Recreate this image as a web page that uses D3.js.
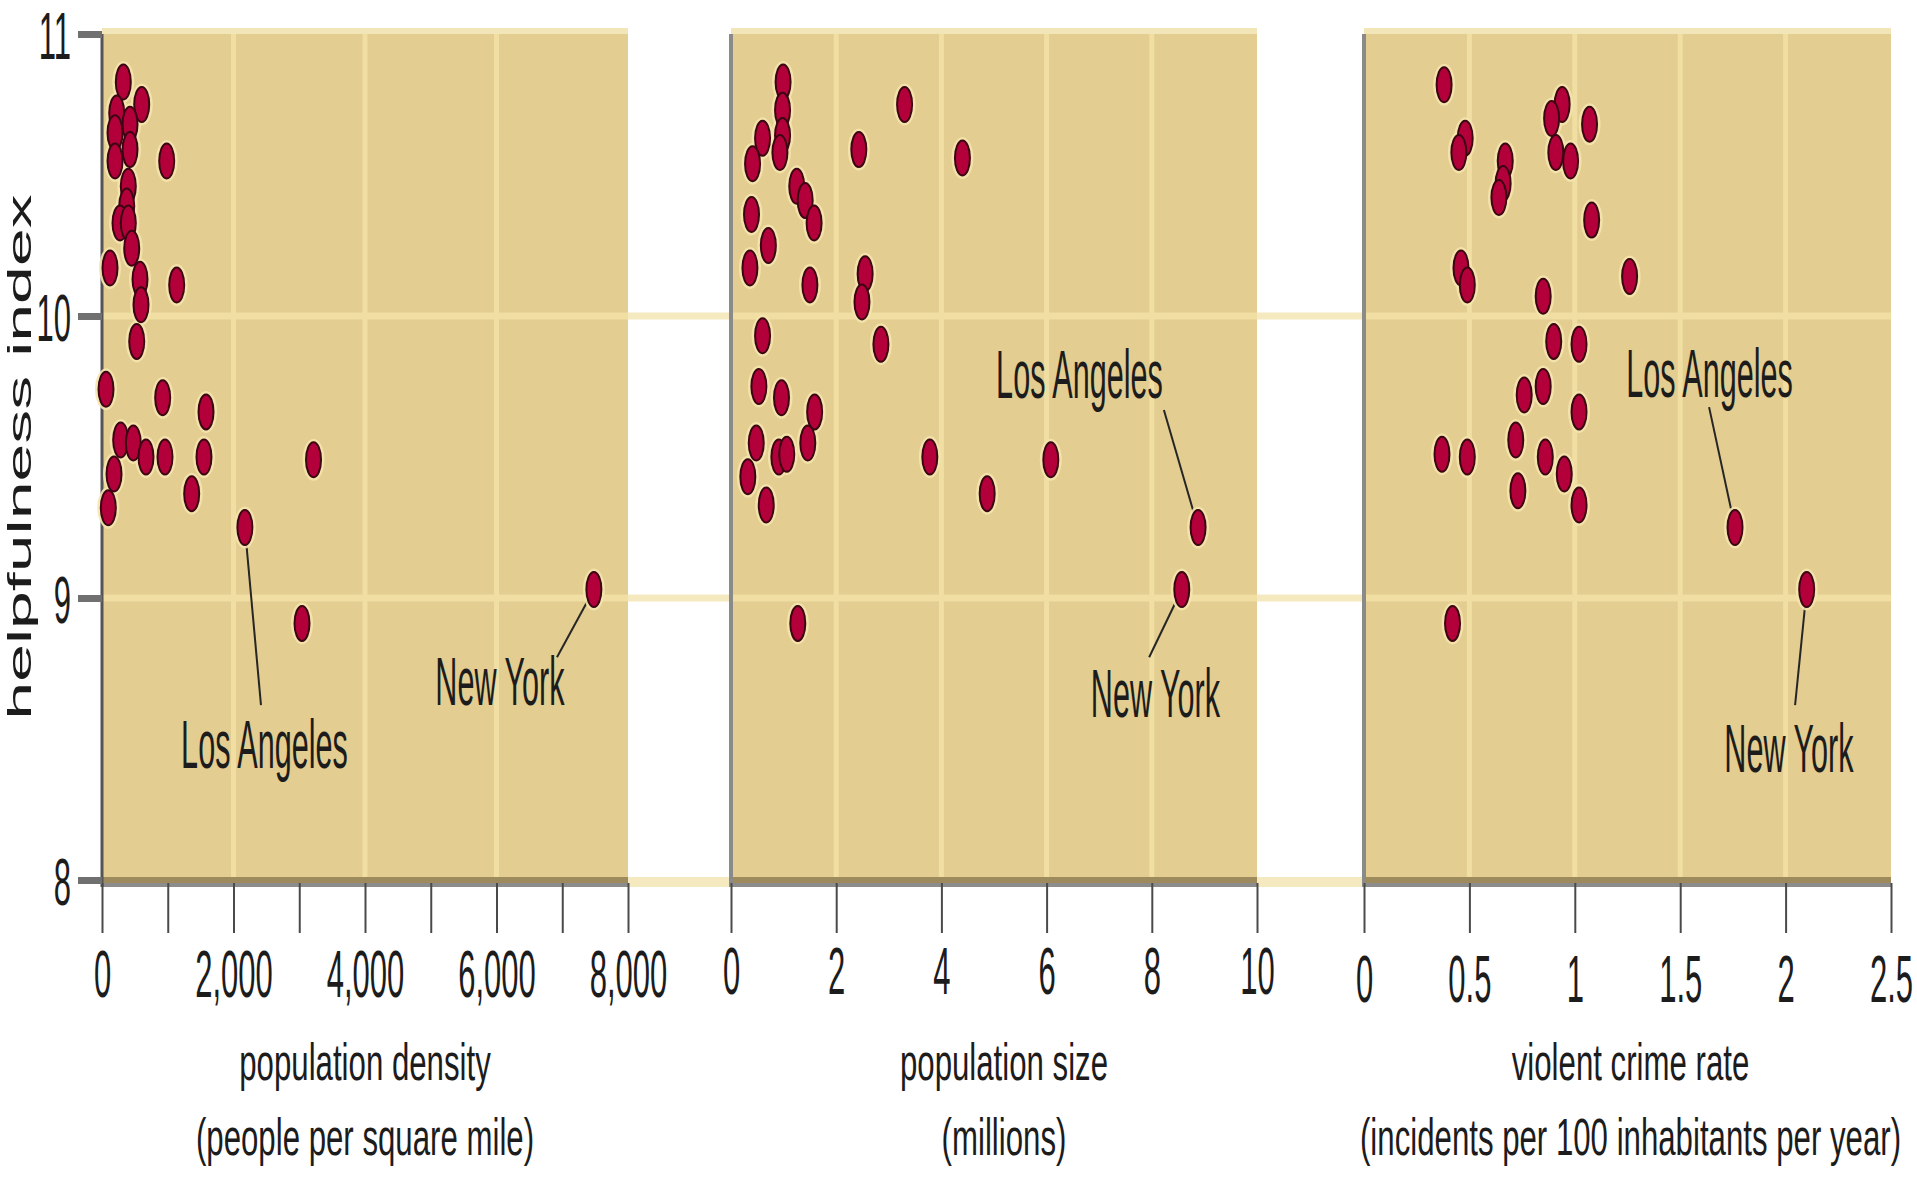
<!DOCTYPE html>
<html>
<head>
<meta charset="utf-8">
<title>Helpfulness and city characteristics</title>
<script src="https://cdn.jsdelivr.net/npm/d3@7/dist/d3.min.js"></script>
<style>
  html, body { margin: 0; padding: 0; background: #ffffff; }
  svg { display: block; }
  text { font-family: "Liberation Sans", Arial, Helvetica, sans-serif; fill: #1c1c1c; }
</style>
</head>
<body>
<svg id="chart" width="1917" height="1178"></svg>
<script>
// Helpfulness index, shared vertical axis
const helpTicks = [8, 9, 10, 11];

// Panel 1: population density (people per square mile)
const densityX = [324, 604, 224, 426, 198, 426, 198, 984, 400, 376, 274, 400, 452, 122, 578, 1136, 593, 528, 61, 923,
                  1582, 284, 476, 669, 958, 1551, 183, 1364, 96, 3217, 3042];
const densityY = [10.83, 10.75, 10.72, 10.68, 10.65, 10.59, 10.55, 10.55, 10.46, 10.39, 10.33, 10.33, 10.24, 10.17, 10.13, 10.11, 10.04, 9.91, 9.74, 9.71,
                  9.66, 9.56, 9.55, 9.50, 9.50, 9.50, 9.44, 9.37, 9.32, 9.49, 8.91];
const densityTicks = [0, 1000, 2000, 3000, 4000, 5000, 6000, 7000, 8000];
const densityTickLabels = ["0", "2,000", "4,000", "6,000", "8,000"];

// Panel 2: population size (millions)
const sizeX = [0.99, 0.98, 0.98, 0.93, 0.60, 0.41, 1.25, 1.41, 1.58, 0.39, 0.71, 0.36, 1.50, 0.60, 3.30, 2.43, 4.40, 2.55, 2.49, 2.85,
               0.53, 0.96, 1.59, 0.48, 0.91, 1.06, 1.46, 0.32, 0.67, 3.78, 4.87, 6.08, 1.27];
const sizeY = [10.83, 10.73, 10.64, 10.58, 10.63, 10.54, 10.46, 10.41, 10.33, 10.36, 10.25, 10.17, 10.11, 9.93, 10.75, 10.59, 10.56, 10.15, 10.05, 9.90,
               9.75, 9.71, 9.66, 9.55, 9.50, 9.51, 9.55, 9.43, 9.33, 9.50, 9.37, 9.49, 8.91];
const sizeTicks = [0, 2, 4, 6, 8, 10];
const sizeTickLabels = ["0", "2", "4", "6", "8", "10"];

// Panel 3: violent crime rate (incidents per 100 inhabitants per year)
const crimeX = [0.38, 0.48, 0.45, 0.67, 0.66, 0.64, 0.94, 0.89, 1.07, 0.91, 0.98, 1.08, 0.46, 0.49, 1.26, 0.85, 0.90, 1.02, 0.85, 0.76,
                1.02, 0.37, 0.49, 0.72, 0.86, 0.73, 0.95, 1.02, 0.42];
const crimeY = [10.82, 10.63, 10.58, 10.55, 10.47, 10.42, 10.75, 10.70, 10.68, 10.58, 10.55, 10.34, 10.17, 10.11, 10.14, 10.07, 9.91, 9.90, 9.75, 9.72,
                9.66, 9.51, 9.50, 9.56, 9.50, 9.38, 9.44, 9.33, 8.91];
const crimeTicks = [0, 0.5, 1, 1.5, 2, 2.5];
const crimeTickLabels = ["0", "0.5", "1", "1.5", "2", "2.5"];

// Cities singled out with a label
const namedCities = ["Los Angeles", "New York"];
const namedHelp = [9.25, 9.03];
const namedDensity = [2173, 7481];
const namedSize = [8.88, 8.57];
const namedCrime = [1.76, 2.10];

// ---------------------------------------------------------------------------
const svg = d3.select("#chart");
const TAN = "#e3cd90", PALE = "#f0dea2", GAP_PALE = "#f5e9bf";
const yTop = 34, yBottom = 880;
const y = d3.scaleLinear().domain([8, 11]).range([yBottom, yTop]);

const panels = [
  { xs: densityX, ys: densityY, named: namedDensity, domain: [0, 8000], range: [102, 628],
    ticks: densityTicks, tickLabels: densityTickLabels, labelBase: 997, titleShift: 0,
    fmt: d3.format(","), title: "population density", sub: "(people per square mile)",
    notes: [ { at: [2471, 8.397], end: [2418, 8.62] }, { at: [6053, 8.62], end: [6920, 8.79] } ] },
  { xs: sizeX, ys: sizeY, named: namedSize, domain: [0, 10], range: [731, 1257],
    ticks: sizeTicks, tickLabels: sizeTickLabels, labelBase: 994, titleShift: 10,
    fmt: d3.format(""), title: "population size", sub: "(millions)",
    notes: [ { at: [6.625, 9.709], end: [8.23, 9.667] }, { at: [8.07, 8.578], end: [7.95, 8.79] } ] },
  { xs: crimeX, ys: crimeY, named: namedCrime, domain: [0, 2.5], range: [1364, 1891],
    ticks: crimeTicks, tickLabels: crimeTickLabels, labelBase: 1002, titleShift: 3,
    fmt: d3.format(""), title: "violent crime rate", sub: "(incidents per 100 inhabitants per year)",
    notes: [ { at: [1.639, 9.713], end: [1.637, 9.677] }, { at: [2.016, 8.383], end: [2.045, 8.62] } ] }
];
panels.forEach(p => { p.x = d3.scaleLinear().domain(p.domain).range(p.range); });

const back = svg.append("g");
const front = svg.append("g");

// pale bands bridging the gaps between panels
for (let i = 0; i < panels.length - 1; i++) {
  const a = panels[i].range[1], b = panels[i + 1].range[0];
  [9, 10].forEach(v => back.append("line")
    .attr("x1", a).attr("x2", b).attr("y1", y(v)).attr("y2", y(v))
    .attr("stroke", GAP_PALE).attr("stroke-width", 7));
  back.append("rect").attr("x", a).attr("width", b - a)
    .attr("y", y(8) - 3).attr("height", 10).attr("fill", GAP_PALE);
}

panels.forEach((p, i) => {
  const [x0, x1] = p.range;
  const g = back.append("g");

  // plot area
  g.append("rect").attr("x", x0).attr("y", yTop).attr("width", x1 - x0).attr("height", yBottom - yTop)
    .attr("fill", TAN);
  g.append("rect").attr("x", x0).attr("y", yTop - 6).attr("width", x1 - x0).attr("height", 6)
    .attr("fill", "#f2e5b8");

  // vertical grid at labelled ticks
  const labelled = p.ticks.filter(t => p.tickLabels.includes(p.fmt(t)));
  g.selectAll(".vgrid").data(labelled.filter(t => t !== p.domain[0] && t !== p.domain[1]))
    .join("line")
    .attr("x1", d => p.x(d)).attr("x2", d => p.x(d))
    .attr("y1", yTop).attr("y2", yBottom)
    .attr("stroke", PALE).attr("stroke-width", 5);

  // horizontal grid
  g.selectAll(".hgrid").data([9, 10]).join("line")
    .attr("x1", x0).attr("x2", x1)
    .attr("y1", d => y(d)).attr("y2", d => y(d))
    .attr("stroke", PALE).attr("stroke-width", 7);

  // base band
  g.append("rect").attr("x", x0).attr("y", yBottom - 3).attr("width", x1 - x0).attr("height", 6)
    .attr("fill", "#9d8b5e");
  g.append("rect").attr("x", x0).attr("y", yBottom + 3).attr("width", x1 - x0).attr("height", 4)
    .attr("fill", "#8c8c8c");

  // left edge
  g.append("line").attr("x1", x0).attr("x2", x0).attr("y1", yTop).attr("y2", yBottom + 7)
    .attr("stroke", i === 0 ? "#555555" : "#8a8a8a").attr("stroke-width", i === 0 ? 3 : 4);

  // bottom axis
  const axis = d3.axisBottom(p.x).tickValues(p.ticks).tickSize(50)
    .tickFormat(d => { const s = p.fmt(d); return p.tickLabels.includes(s) ? s : ""; });
  const ag = g.append("g").attr("transform", `translate(0,${yBottom + 3})`).call(axis)
    .attr("font-size", null).attr("font-family", null);
  ag.select(".domain").remove();
  ag.selectAll(".tick line").attr("stroke", "#4a4a4a").attr("stroke-width", 2);
  ag.selectAll(".tick text")
    .attr("y", p.labelBase - (yBottom + 3)).attr("dy", null)
    .attr("font-size", 66).attr("fill", "#1c1c1c")
    .attr("transform", "scale(0.47,1)");

  // axis titles
  const cx = (x0 + x1) / 2 + p.titleShift;
  g.append("text").attr("text-anchor", "middle").attr("font-size", 52)
    .attr("transform", `translate(${cx},1080) scale(0.6,1)`).text(p.title);
  g.append("text").attr("text-anchor", "middle").attr("font-size", 52)
    .attr("transform", `translate(${cx},1155) scale(0.6,1)`).text(p.sub);

  // leader lines to the named cities
  p.notes.forEach((n, k) => {
    front.append("line")
      .attr("x1", p.x(p.named[k])).attr("y1", y(namedHelp[k]))
      .attr("x2", p.x(n.end[0])).attr("y2", y(n.end[1]))
      .attr("stroke", "#262626").attr("stroke-width", 2);
  });
});

// vertical axis
const yAxis = d3.axisLeft(y).tickValues(helpTicks).tickSize(24).tickFormat(d3.format("d"));
const yg = back.append("g").attr("transform", `translate(${panels[0].range[0]},0)`).call(yAxis)
  .attr("font-size", null).attr("font-family", null);
yg.select(".domain").remove();
yg.selectAll(".tick line").attr("stroke", "#707070").attr("stroke-width", 7);
yg.selectAll(".tick text")
  .attr("x", 0).attr("dy", "0.37em").attr("font-size", 66).attr("fill", "#1c1c1c")
  .attr("transform", "translate(-31,0) scale(0.47,1)");

back.append("text").attr("text-anchor", "middle").attr("font-size", 68).attr("fill", "#222")
  .attr("transform", `translate(31,${(yTop + yBottom) / 2}) scale(0.5,1) rotate(-90)`)
  .text("helpfulness index");

// dots
const halo = front.append("g");
const dots = front.append("g");
panels.forEach(p => {
  const pts = p.xs.map((v, k) => [p.x(v), y(p.ys[k])])
    .concat(p.named.map((v, k) => [p.x(v), y(namedHelp[k])]));
  halo.selectAll(null).data(pts).join("ellipse")
    .attr("cx", d => d[0]).attr("cy", d => d[1]).attr("rx", 11).attr("ry", 21)
    .attr("fill", "#f4e6ae").attr("opacity", 0.9);
  dots.selectAll(null).data(pts).join("ellipse")
    .attr("cx", d => d[0]).attr("cy", d => d[1]).attr("rx", 7.5).attr("ry", 17.5)
    .attr("fill", "#b3003a").attr("stroke", "#3b0512").attr("stroke-width", 2);
});

// city labels
panels.forEach(p => {
  p.notes.forEach((n, k) => {
    front.append("text").attr("text-anchor", "middle").attr("font-size", 68)
      .attr("transform", `translate(${p.x(n.at[0])},${y(n.at[1])}) scale(0.45,1)`)
      .text(namedCities[k]);
  });
});
</script>
</body>
</html>
